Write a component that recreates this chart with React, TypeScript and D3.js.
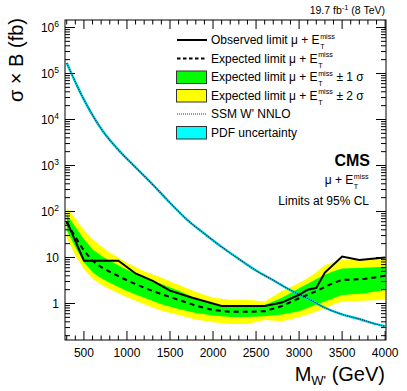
import { useEffect, useRef } from 'react'
import * as d3 from 'd3'

// SSM W' NNLO cross section x BR (fb)
const ssmMass = [300, 500, 700, 900, 1100, 1300, 1500, 1700, 1900, 2100, 2300, 2500, 2700, 2900, 3100, 3300, 3500, 3700, 3900, 4000]
const ssmXsec = [170000, 27000, 6300, 2190, 912, 385, 155, 66, 33, 17, 9.3, 5.2, 3.2, 1.95, 1.29, 0.81, 0.58, 0.46, 0.355, 0.32]

// observed limit
const obsMass = [300, 500, 900, 1100, 1300, 1500, 1750, 2100, 2600, 2800, 3000, 3100, 3200, 3300, 3500, 3700, 4000]
const obsLimit = [62, 8.5, 8.5, 4.5, 3.1, 1.9, 1.35, 0.88, 0.88, 1.05, 1.55, 2.0, 2.2, 4.7, 10.5, 8.8, 10]

// expected limit and bands
const expMass = [300, 400, 500, 600, 700, 800, 1000, 1200, 1400, 1600, 1800, 2000, 2200, 2400, 2600, 2800, 3000, 3100, 3200, 3300, 3400, 3500, 3750, 4000]
const expLimit = [58, 28, 14, 8.5, 6.2, 4.9, 3.2, 2.2, 1.6, 1.2, 0.9, 0.72, 0.66, 0.66, 0.68, 0.88, 1.3, 1.55, 1.85, 2.3, 2.8, 3.25, 3.4, 4.0]
const band1Lo = [39.2, 16.9, 7.87, 4.78, 3.53, 2.82, 1.88, 1.33, 0.96, 0.76, 0.62, 0.55, 0.51, 0.51, 0.53, 0.58, 0.68, 0.8, 0.95, 1.1, 1.3, 1.53, 1.65, 2.0]
const band1Hi = [85.8, 46.5, 24.9, 15.1, 10.9, 8.52, 5.43, 3.65, 2.66, 1.9, 1.3, 0.95, 0.85, 0.85, 0.93, 1.33, 2.14, 2.7, 3.4, 4.2, 5.0, 5.8, 6.0, 6.3]
const band2Lo = [27.1, 11.1, 5.57, 3.46, 2.55, 2.04, 1.37, 0.96, 0.7, 0.56, 0.45, 0.39, 0.36, 0.36, 0.44, 0.41, 0.5, 0.58, 0.67, 0.79, 0.95, 1.1, 1.15, 1.2]
const band2Hi = [124, 70.3, 39.5, 25.1, 17.5, 12.9, 7.68, 5.04, 3.67, 2.57, 1.8, 1.34, 1.2, 1.2, 1.1, 1.88, 2.8, 3.6, 4.8, 6.9, 7.9, 8.8, 9.0, 9.6]

const xTicks = [500, 1000, 1500, 2000, 2500, 3000, 3500, 4000]
const yDecades = [0, 1, 2, 3, 4, 5, 6]

const legendRows = [
  { kind: 'solid', pre: 'Observed limit \u03bc + E', post: '' },
  { kind: 'dashed', pre: 'Expected limit \u03bc + E', post: '' },
  { kind: 'green', pre: 'Expected limit \u03bc + E', post: '\u00b1 1 \u03c3' },
  { kind: 'yellow', pre: 'Expected limit \u03bc + E', post: '\u00b1 2 \u03c3' },
  { kind: 'dotted', pre: "SSM W' NNLO", post: null },
  { kind: 'cyan', pre: 'PDF uncertainty', post: null },
]

const FONT = '"Liberation Sans", Arial, Helvetica, sans-serif'

function addEt(g, x, y, pre, post, size) {
  const t = g.append('text').attr('x', x).attr('y', y).attr('font-size', size).text(pre)
  const w = t.node().getComputedTextLength()
  const sup = g.append('text').attr('x', x + w + 0.5).attr('y', y - size * 0.42)
    .attr('font-size', size * 0.6).text('miss')
  g.append('text').attr('x', x + w + 0.5).attr('y', y + size * 0.42)
    .attr('font-size', size * 0.6).text('T')
  const ws = sup.node().getComputedTextLength()
  if (post) g.append('text').attr('x', x + w + ws + 4).attr('y', y).attr('font-size', size).text(post)
}

export default function App() {
  const svgRef = useRef(null)

  useEffect(() => {
    const svg = d3.select(svgRef.current)
    svg.selectAll('*').remove()
    svg.attr('font-family', FONT)

    const left = 65, right = 386, top = 20, bottom = 340
    const x = d3.scaleLinear().domain([280, 4010]).range([left, right])
    const y = d3.scaleLog().domain([0.161, 1.455e6]).range([bottom, top])

    svg.append('clipPath').attr('id', 'frame')
      .append('rect').attr('x', left).attr('y', top).attr('width', right - left).attr('height', bottom - top)

    const plot = svg.append('g').attr('clip-path', 'url(#frame)')

    // bands
    const band = (lo, hi) => d3.area().x((d, i) => x(expMass[i])).y0((d, i) => y(lo[i])).y1((d, i) => y(hi[i]))
    plot.append('path').datum(expMass).attr('d', band(band2Lo, band2Hi)).attr('fill', '#ffff00')
    plot.append('path').datum(expMass).attr('d', band(band1Lo, band1Hi)).attr('fill', '#00ff00')

    // SSM curve with thin PDF band
    const ssmLine = d3.line().x((d, i) => x(ssmMass[i])).y((d) => y(d)).curve(d3.curveMonotoneX)
    plot.append('path').datum(ssmXsec).attr('d', ssmLine).attr('fill', 'none')
      .attr('stroke', '#00d4e0').attr('stroke-width', 2.4)
    plot.append('path').datum(ssmXsec).attr('d', ssmLine).attr('fill', 'none')
      .attr('stroke', '#0b2d55').attr('stroke-width', 1.2).attr('stroke-dasharray', '1.2,1')

    // expected
    const expLine = d3.line().x((d, i) => x(expMass[i])).y((d) => y(d))
    plot.append('path').datum(expLimit).attr('d', expLine).attr('fill', 'none')
      .attr('stroke', '#000').attr('stroke-width', 2).attr('stroke-dasharray', '5,4')

    // observed
    const obsLine = d3.line().x((d, i) => x(obsMass[i])).y((d) => y(d))
    plot.append('path').datum(obsLimit).attr('d', obsLine).attr('fill', 'none')
      .attr('stroke', '#000').attr('stroke-width', 2)

    // frame
    svg.append('rect').attr('x', left).attr('y', top).attr('width', right - left).attr('height', bottom - top)
      .attr('fill', 'none').attr('stroke', '#000').attr('stroke-width', 1)

    // x ticks
    const ax = svg.append('g').attr('stroke', '#000').attr('stroke-width', 1)
    for (let m = 300; m <= 4000; m += 100) {
      const len = m % 500 === 0 ? 9 : 4.5
      const px = x(m)
      ax.append('line').attr('x1', px).attr('x2', px).attr('y1', bottom).attr('y2', bottom - len)
      ax.append('line').attr('x1', px).attr('x2', px).attr('y1', top).attr('y2', top + len)
    }
    svg.append('g').selectAll('text').data(xTicks).join('text')
      .attr('x', (d) => x(d)).attr('y', 357).attr('text-anchor', 'middle')
      .attr('font-size', 12).text((d) => d)

    // y ticks
    for (let e = -1; e <= 6; e++) {
      for (let k = 1; k <= 9; k++) {
        const v = k * Math.pow(10, e)
        if (v < 0.161 || v > 1.455e6) continue
        const len = k === 1 ? 10 : 5
        const py = y(v)
        ax.append('line').attr('x1', left).attr('x2', left + len).attr('y1', py).attr('y2', py)
        ax.append('line').attr('x1', right).attr('x2', right - len).attr('y1', py).attr('y2', py)
      }
    }
    yDecades.forEach((e) => {
      const t = svg.append('text').attr('x', 59).attr('y', y(Math.pow(10, e)) + 4.5)
        .attr('text-anchor', 'end').attr('font-size', 12)
      if (e === 0) t.text('1')
      else if (e === 1) t.text('10')
      else {
        t.append('tspan').text('10')
        t.append('tspan').attr('dy', -5).attr('font-size', 8.5).text(e)
      }
    })

    // axis titles
    svg.append('text').attr('transform', 'translate(23,18) rotate(-90)').attr('text-anchor', 'end')
      .attr('font-size', 20).text('\u03c3 \u00d7 B (fb)')
    const xt = svg.append('text').attr('x', 385).attr('y', 381).attr('text-anchor', 'end').attr('font-size', 20)
    xt.append('tspan').text('M')
    xt.append('tspan').attr('dy', 4).attr('font-size', 13).text("W'")
    xt.append('tspan').attr('dy', -4).text(' (GeV)')

    // lumi label
    const lumi = svg.append('text').attr('x', 385).attr('y', 14).attr('text-anchor', 'end').attr('font-size', 10.5)
    lumi.append('tspan').text('19.7 fb')
    lumi.append('tspan').attr('dy', -4).attr('font-size', 7.5).text('-1')
    lumi.append('tspan').attr('dy', 4).text(' (8 TeV)')

    // legend
    const leg = svg.append('g')
    legendRows.forEach((r, i) => {
      const cy = 40 + i * 18.5
      if (r.kind === 'solid' || r.kind === 'dashed' || r.kind === 'dotted') {
        leg.append('line').attr('x1', 177).attr('x2', 207).attr('y1', cy).attr('y2', cy)
          .attr('stroke', r.kind === 'dotted' ? '#333' : '#000')
          .attr('stroke-width', r.kind === 'dotted' ? 1 : 2)
          .attr('stroke-dasharray', r.kind === 'dashed' ? '3.5,2.5' : r.kind === 'dotted' ? '1,1' : null)
      } else {
        const fill = r.kind === 'green' ? '#00ff00' : r.kind === 'yellow' ? '#ffff00' : '#00ffff'
        leg.append('rect').attr('x', 176.5).attr('y', cy - 6).attr('width', 30).attr('height', 12.5)
          .attr('fill', fill).attr('stroke', '#333').attr('stroke-width', 1)
      }
      if (r.post === null) {
        leg.append('text').attr('x', 211).attr('y', cy + 4).attr('font-size', 12).text(r.pre)
      } else {
        addEt(leg, 211, cy + 4, r.pre, r.post, 12)
      }
    })

    // CMS block
    svg.append('text').attr('x', 370).attr('y', 166).attr('text-anchor', 'end')
      .attr('font-size', 16).attr('font-weight', 'bold').text('CMS')
    const ch = svg.append('g')
    addEt(ch, 0, 184, '\u03bc + E', '', 12)
    const bb = ch.node().getBBox()
    ch.attr('transform', `translate(${369 - bb.width - bb.x},0)`)
    svg.append('text').attr('x', 369).attr('y', 205).attr('text-anchor', 'end')
      .attr('font-size', 12).text('Limits at 95% CL')
  }, [])

  return (
    <svg ref={svgRef} width={407} height={391}
      style={{ position: 'absolute', left: 0, top: 0, background: '#fff' }} />
  )
}
